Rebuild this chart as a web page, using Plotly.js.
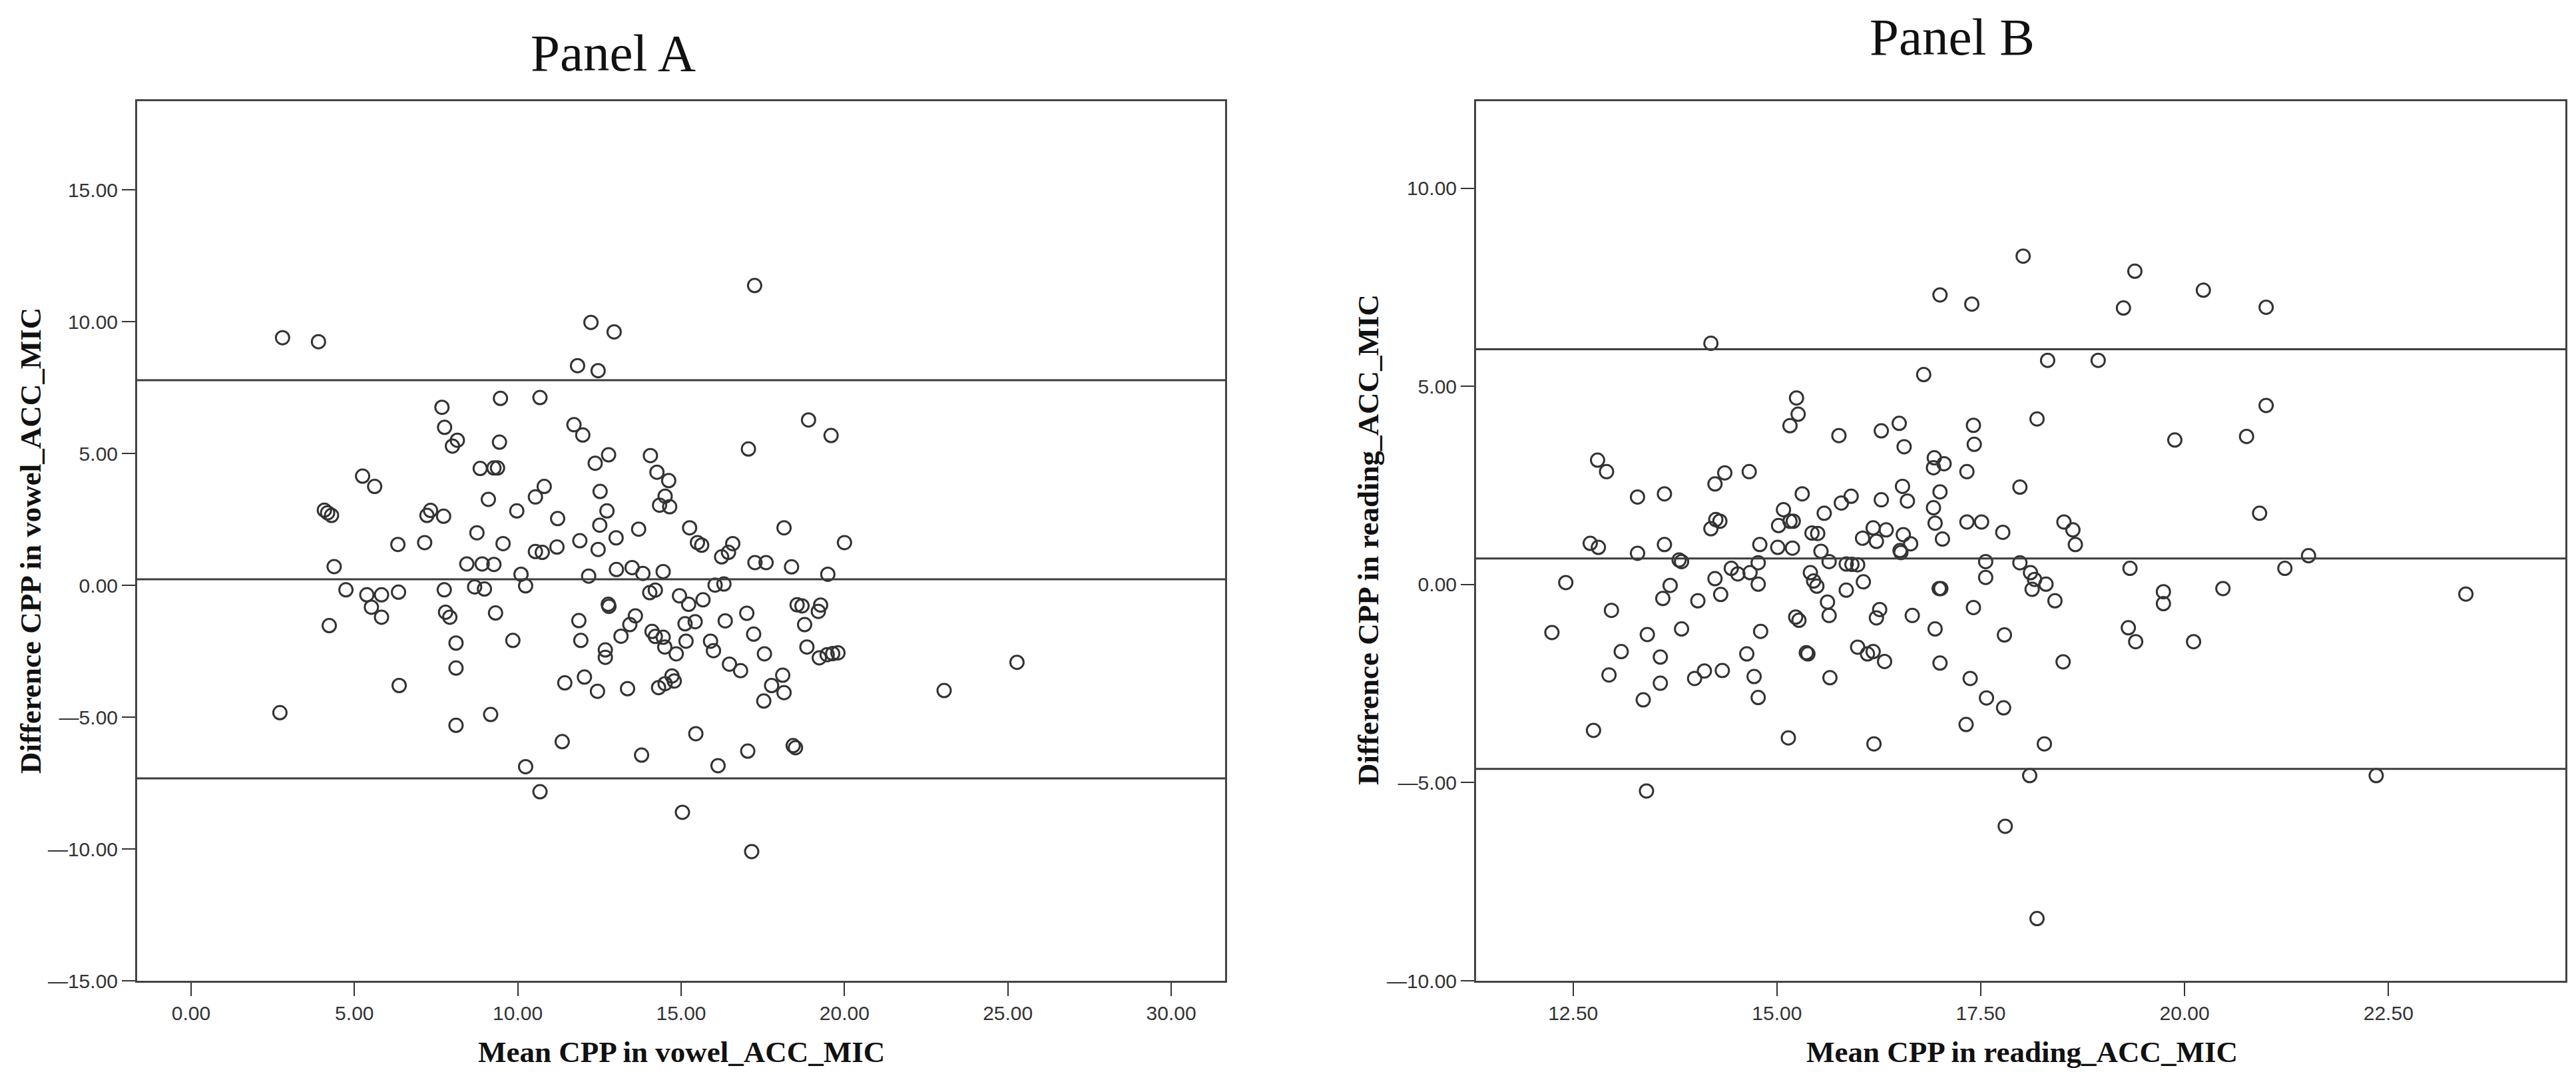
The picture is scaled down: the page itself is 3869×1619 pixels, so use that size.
<!DOCTYPE html>
<html>
<head>
<meta charset="utf-8">
<script src="https://cdn.plot.ly/plotly-3.0.1.min.js"></script>
<style>
  body { margin: 0; background: #fff; }
  #chart { width: 3869px; height: 1619px; }
</style>
</head>
<body>
<div id="chart"></div>
<script>
// Panel A: vowel, mean vs difference
const vowelMean = [
    2.80, 3.90, 7.68, 9.47, 7.76, 8.15, 8.00, 9.44, 8.85, 9.27, 9.38, 5.25, 5.62, 9.10, 9.97,
    4.08, 4.18, 4.30, 7.22, 7.33, 7.73, 8.75, 9.55, 6.33, 7.15, 4.38, 8.44, 8.91, 9.27, 10.10,
    10.24, 4.74, 5.38, 5.83, 6.35, 5.52, 5.83, 7.75, 8.68, 8.98, 7.79, 7.92, 9.32, 4.23, 9.85,
    8.11, 8.11, 6.37, 2.72, 9.17, 8.11, 10.24, 10.68,
    17.25, 12.24, 12.95, 11.83, 12.46, 10.68, 11.72, 11.99, 17.06, 12.37, 12.78, 14.06, 14.26,
    14.62, 14.51, 14.34, 14.65, 10.81, 10.54, 12.52, 12.73, 12.51, 11.22, 13.70, 13.01, 11.90,
    12.46, 10.54, 10.75, 11.20, 15.26, 15.50, 15.63, 16.24, 16.45, 16.58, 18.15, 17.26, 17.60,
    18.38, 12.17, 13.02, 13.50, 13.83, 14.45, 16.04, 16.31, 14.04, 14.21, 12.77, 12.79, 14.95,
    15.23, 15.67, 11.87, 11.93, 13.60, 13.43, 13.16, 12.68, 12.68, 14.11, 14.21, 14.45, 14.50,
    14.85, 15.12, 15.43, 15.15, 15.90, 15.99, 16.35, 17.01, 17.22, 17.55, 16.48, 16.82, 11.44,
    12.04, 12.44, 13.36, 14.31, 14.51, 14.72, 14.79, 17.77, 18.11, 18.15, 17.53, 11.36, 15.45,
    13.79, 16.13, 17.04, 18.43, 18.50, 15.04, 17.16,
    18.90, 19.59, 20.00, 19.49, 18.55, 18.70, 19.27, 19.20, 18.78, 18.85, 19.23, 19.47, 19.64,
    19.80, 23.05, 25.28
];
const vowelDiff = [
    9.39, 9.24, 6.75, 7.09, 5.99, 5.50, 5.28, 5.43, 4.43, 4.45, 4.45, 4.14, 3.75, 3.26, 2.82,
    2.85, 2.75, 2.65, 2.65, 2.84, 2.62, 1.99, 1.58, 1.55, 1.62, 0.71, 0.81, 0.81, 0.79, 0.42,
    -0.02, -0.17, -0.36, -0.36, -0.26, -0.83, -1.21, -0.17, -0.06, -0.14, -1.02, -1.21, -1.05, -1.53, -2.09,
    -2.19, -3.14, -3.80, -4.83, -4.90, -5.31, -6.88, -7.83,
    11.37, 9.97, 9.61, 8.33, 8.14, 7.12, 6.09, 5.70, 5.17, 4.63, 4.95, 4.92, 4.29,
    3.97, 3.38, 3.04, 2.98, 3.75, 3.35, 3.56, 2.82, 2.28, 2.53, 2.13, 1.80, 1.69,
    1.36, 1.28, 1.25, 1.45, 2.18, 1.62, 1.52, 1.08, 1.25, 1.58, 2.18, 0.86, 0.86,
    0.70, 0.35, 0.60, 0.67, 0.45, 0.52, 0.01, 0.05, -0.28, -0.18, -0.72, -0.80, -0.40,
    -0.72, -0.55, -1.34, -2.09, -1.16, -1.49, -1.93, -2.45, -2.73, -1.75, -1.94, -1.97, -2.34,
    -2.60, -1.46, -1.38, -2.12, -2.12, -2.48, -1.35, -1.06, -1.85, -2.60, -2.99, -3.24, -3.70,
    -3.48, -4.02, -3.92, -3.88, -3.73, -3.44, -3.63, -3.80, -3.41, -4.07, -4.39, -5.93, -5.63,
    -6.44, -6.84, -6.29, -6.08, -6.16, -8.61, -10.10,
    6.27, 5.68, 1.62, 0.42, -0.74, -0.78, -0.75, -0.99, -1.49, -2.34, -2.75, -2.63, -2.59,
    -2.56, -3.99, -2.92
];
// mean difference and limits of agreement
const vowelLines = [7.78, 0.23, -7.32];

// Panel B: reading
const readingMean = [
    14.19, 15.24, 15.26, 15.16, 15.76, 12.80, 12.91, 13.29, 13.62, 14.24, 14.36, 14.66, 15.31,
    15.08, 15.16, 15.20, 15.02, 14.19, 14.25, 14.30, 15.58, 15.43, 15.50, 12.71, 12.81, 13.29,
    13.62, 14.79, 15.01, 15.19, 15.54, 15.64, 13.80, 13.83, 14.44, 14.52, 14.67, 14.77, 14.77,
    14.24, 13.69, 13.60, 14.31, 14.03, 12.41, 15.41, 15.45, 15.49, 15.62, 15.64, 15.23, 15.27,
    12.97, 12.24, 13.41, 13.83, 14.80, 13.09, 13.57, 14.63, 15.36, 15.38, 12.94, 13.57, 13.99,
    14.11, 14.33, 14.72, 15.65, 13.36, 14.77, 12.75, 15.14, 13.40,
    18.02, 19.39, 17.00, 17.39, 19.25, 18.32, 18.94, 16.80, 18.19, 16.50, 16.28, 17.41, 17.42,
    16.56, 16.93, 16.92, 17.05, 17.33, 17.98, 15.91, 15.79, 16.28, 16.54, 16.60, 17.00, 16.92,
    16.94, 17.03, 17.33, 17.51, 17.77, 18.52, 18.63, 18.66, 16.18, 16.34, 16.05, 16.22, 16.55,
    16.64, 16.51, 16.52, 15.85, 15.92, 15.99, 15.85, 16.06, 17.56, 17.56, 17.98, 18.11, 18.16,
    18.30, 18.13, 16.99, 17.01, 19.33, 18.41, 16.26, 16.22, 16.66, 17.41, 16.94, 17.79, 19.31,
    19.40, 15.99, 16.11, 16.18, 16.32, 17.00, 18.51, 17.37, 17.57, 17.78, 17.32, 16.19, 18.28,
    18.10, 17.80, 18.19,
    20.23, 21.00, 21.00, 19.88, 20.76, 20.92, 21.52, 21.23, 20.47, 19.74, 19.74, 20.11, 23.45,
    22.35
];
const readingDiff = [
    6.09, 4.71, 4.30, 4.01, 3.76, 3.14, 2.85, 2.21, 2.29, 2.54, 2.82, 2.85, 2.29,
    1.89, 1.60, 1.60, 1.49, 1.41, 1.64, 1.60, 1.80, 1.30, 1.29, 1.04, 0.94, 0.79,
    1.01, 1.01, 0.94, 0.92, 0.84, 0.58, 0.62, 0.58, 0.41, 0.27, 0.30, 0.55, 0.01,
    0.15, -0.02, -0.35, -0.25, -0.41, 0.05, 0.30, 0.09, -0.04, -0.44, -0.78, -0.82, -0.90,
    -0.65, -1.21, -1.26, -1.12, -1.18, -1.69, -1.83, -1.75, -1.72, -1.75, -2.28, -2.49, -2.37,
    -2.18, -2.17, -2.32, -2.35, -2.91, -2.85, -3.68, -3.87, -5.21,
    8.29, 7.91, 7.31, 7.08, 6.98, 5.66, 5.66, 5.30, 4.18, 4.07, 3.88, 4.02, 3.54,
    3.48, 3.20, 2.95, 3.05, 2.85, 2.46, 2.23, 2.06, 2.14, 2.48, 2.11, 2.34, 1.94,
    1.55, 1.15, 1.58, 1.58, 1.32, 1.58, 1.38, 1.01, 1.43, 1.38, 1.17, 1.09, 1.26,
    1.03, 0.86, 0.81, 0.52, 0.51, 0.50, -0.14, 0.07, 0.58, 0.18, 0.55, 0.30, 0.13,
    0.01, -0.12, -0.10, -0.10, 0.41, -0.41, -0.63, -0.84, -0.78, -0.58, -1.12, -1.27, -1.09,
    -1.44, -1.58, -1.75, -1.69, -1.94, -1.98, -1.95, -2.37, -2.86, -3.11, -3.53, -4.02, -4.02,
    -4.82, -6.10, -8.43,
    7.43, 7.00, 4.52, 3.65, 3.74, 1.80, 0.73, 0.41, -0.10, -0.18, -0.48, -1.44, -0.24,
    -4.82
];
const readingLines = [5.94, 0.66, -4.65];

const vowelXTicks = [0, 5, 10, 15, 20, 25, 30];
const vowelYTicks = [15, 10, 5, 0, -5, -10, -15];
const readingXTicks = [12.5, 15, 17.5, 20, 22.5];
const readingYTicks = [10, 5, 0, -5, -10];

const W = 3869, H = 1619;
const px = v => v / W;
const py = v => 1 - v / H;

function fmt(v) {
    return v < 0 ? '\u2014' + Math.abs(v).toFixed(2) : v.toFixed(2);
}

const tickFont = { family: 'Liberation Sans, Arial, sans-serif', size: 30, color: '#333' };
const titleFont = { family: 'Liberation Serif, Times New Roman, serif', size: 45, color: '#111' };
const panelFont = { family: 'Liberation Serif, Times New Roman, serif', size: 79, color: '#111' };

function axis(ticks, range, domain, anchor) {
    return {
        domain: domain,
        anchor: anchor,
        range: range,
        tickmode: 'array',
        tickvals: ticks,
        ticktext: ticks.map(fmt),
        ticks: 'outside',
        ticklen: 20,
        tickwidth: 2,
        tickcolor: '#333',
        tickfont: tickFont,
        showline: true,
        mirror: true,
        linecolor: '#444',
        linewidth: 3,
        showgrid: false,
        zeroline: false
    };
}

const marker = { symbol: 'circle-open', size: 20, color: '#333', line: { width: 3, color: '#333' } };

const traces = [
    { x: vowelMean, y: vowelDiff, xaxis: 'x', yaxis: 'y', type: 'scatter', mode: 'markers', marker: marker, hoverinfo: 'x+y' },
    { x: readingMean, y: readingDiff, xaxis: 'x2', yaxis: 'y2', type: 'scatter', mode: 'markers', marker: marker, hoverinfo: 'x+y' }
];

const yDom = [py(1473), py(152)];

const shapes = [];
vowelLines.forEach(v => shapes.push({
    type: 'line', xref: 'x domain', yref: 'y', x0: 0, x1: 1, y0: v, y1: v,
    line: { color: '#3c3c3c', width: 3 }
}));
readingLines.forEach(v => shapes.push({
    type: 'line', xref: 'x2 domain', yref: 'y2', x0: 0, x1: 1, y0: v, y1: v,
    line: { color: '#3c3c3c', width: 3 }
}));

const annotations = [
    { text: 'Panel A', x: px(921), y: py(80), font: panelFont },
    { text: 'Panel B', x: px(2932), y: py(56), font: panelFont },
    { text: '<b>Mean CPP in vowel_ACC_MIC</b>', x: px(1023), y: py(1580), font: titleFont },
    { text: '<b>Mean CPP in reading_ACC_MIC</b>', x: px(3037), y: py(1580), font: titleFont },
    { text: '<b>Difference CPP in vowel_ACC_MIC</b>', x: px(46), y: py(812), font: titleFont, textangle: -90 },
    { text: '<b>Difference CPP in reading_ACC_MIC</b>', x: px(2055), y: py(811), font: titleFont, textangle: -90 }
].map(a => Object.assign({ xref: 'paper', yref: 'paper', showarrow: false, xanchor: 'center', yanchor: 'middle' }, a));

const layout = {
    width: W,
    height: H,
    margin: { l: 0, r: 0, t: 0, b: 0 },
    paper_bgcolor: '#fff',
    plot_bgcolor: '#fff',
    showlegend: false,
    xaxis: axis(vowelXTicks, [-1.65, 31.65], [px(206), px(1840)], 'y'),
    yaxis: axis(vowelYTicks, [-15, 18.36], yDom, 'x'),
    xaxis2: axis(readingXTicks, [11.31, 24.67], [px(2217), px(3853)], 'y2'),
    yaxis2: axis(readingYTicks, [-10, 12.2], yDom, 'x2'),
    shapes: shapes,
    annotations: annotations
};

Plotly.newPlot('chart', traces, layout, { displayModeBar: false, staticPlot: true });
</script>
</body>
</html>
